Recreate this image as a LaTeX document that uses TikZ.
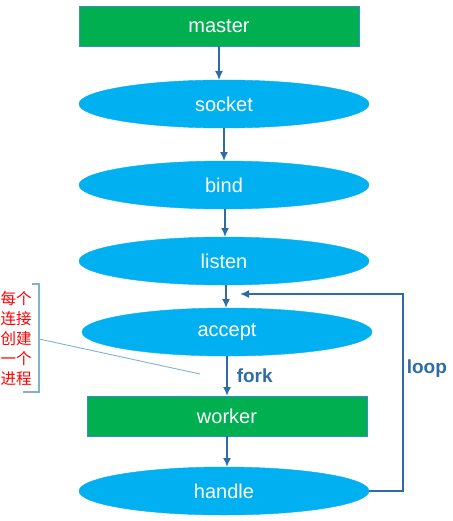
\documentclass[tikz,border=0pt]{standalone}
\usepackage{fontspec}
\setmainfont{Liberation Sans}
\newfontfamily\cjk{Noto Sans CJK SC}
\usepackage{tikz}
\usetikzlibrary{positioning,arrows.meta,shapes.geometric}
\definecolor{ellblue}{HTML}{00B0F0}
\definecolor{boxgreen}{HTML}{00B050}
\definecolor{boxedge}{HTML}{3A8CCC}
\definecolor{arrowblue}{HTML}{2E6CA6}
\definecolor{notecol}{HTML}{7DB4C8}
\tikzset{
  stagebox/.style={rectangle, draw=boxedge, fill=boxgreen, minimum width=280bp, minimum height=40bp,
                   inner sep=0pt, outer sep=0pt, text=white, font=\fontsize{20bp}{23bp}\selectfont},
  callnode/.style={ellipse, draw=ellblue, fill=ellblue, minimum width=290bp, minimum height=48bp,
                   inner sep=0pt, outer sep=0pt, text=white, font=\fontsize{20bp}{23bp}\selectfont},
  fwd/.style={-{Latex[length=9bp,width=8bp]}, draw=arrowblue, line width=1.6bp},
  tag/.style={text=arrowblue, font=\bfseries\fontsize{19bp}{22bp}\selectfont, inner sep=0pt},
}

\begin{document}
\begin{tikzpicture}[x=1bp,y=1bp]
  \useasboundingbox (0,0) rectangle (453,-521);
  \node[stagebox] (master) at (219,-26) {master};
  \node[callnode] (socket) [below=34bp of master, xshift=5bp] {socket};
  \node[callnode] (bind) [below=33bp of socket] {bind};
  \node[callnode] (listen) [below=28bp of bind] {listen};
  \node[callnode] (accept) [below=23bp of listen, xshift=3bp] {accept};
  \node[stagebox] (worker) [below=40bp of accept] {worker};
  \node[callnode] (handle) [below=31bp of worker, xshift=-3bp] {handle};
  \coordinate[above right=14bp and 13bp of accept.north] (loopin);

  \draw[fwd] (master.south) -- (master.south |- socket.north);
  \draw[fwd] (socket.south) -- (bind.north);
  \draw[fwd] ([xshift=1bp]bind.south) -- ([xshift=1bp]listen.north);
  \draw[fwd] ([xshift=2bp]listen.south) -- ([xshift=2bp]listen.south |- accept.north);
  \draw[fwd] (accept.south) -- node[tag, right=9bp] (forktag) {fork} (worker.north);
  \draw[fwd] (worker.south) -- (worker.south |- handle.north);
  \draw[fwd] (handle.east) -- ++(34bp,0) |- node[tag, pos=0.31, right=3bp] (looptag) {loop} (loopin);

  % annotation on the left
  \node[text=red, font=\cjk\fontsize{15.5bp}{20bp}\selectfont, align=left, inner sep=0pt] (note) at (16,-339)
    {每个\\连接\\创建\\一个\\进程};
  \draw[notecol, line width=1.2bp] (32,-284) -- (39,-284) -- (39,-392) -- (23,-392);
  \coordinate (notetip) at (39,-339);
  \draw[notecol, line width=0.9bp] (notetip) -- (200,-374);
\end{tikzpicture}
\end{document}
